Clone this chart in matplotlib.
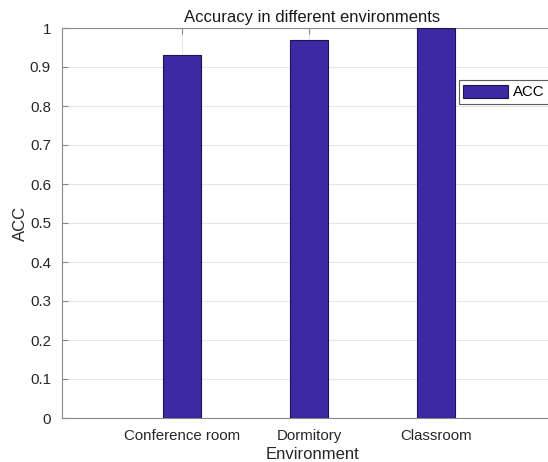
import matplotlib
matplotlib.use("Agg")
import matplotlib.pyplot as plt
import numpy as np

categories = ["Conference room", "Dormitory", "Classroom"]
acc = [0.93, 0.97, 1.0]
yticks = [0, 0.1, 0.2, 0.3, 0.4, 0.5, 0.6, 0.7, 0.8, 0.9, 1]
ytick_labels = ["0", "0.1", "0.2", "0.3", "0.4", "0.5", "0.6", "0.7", "0.8", "0.9", "1"]

plt.rcParams['font.family'] = ['Liberation Sans', 'DejaVu Sans']

W, H = 548, 462
fig = plt.figure(figsize=(W / 100, H / 100), dpi=100)
left, right, top, bottom = 62, 563, 28, 418
ax = fig.add_axes([left / W, 1 - bottom / H, (right - left) / W, (bottom - top) / H])

x = np.arange(1, len(categories) + 1)
bars = ax.bar(x, acc, width=0.3, color="#3d2aa3", edgecolor="#1c1450", linewidth=0.8,
              label="ACC", zorder=3)

ax.set_xlim(0.055, 4.0)
ax.set_ylim(0, 1)
ax.set_xticks(x)
ax.set_xticklabels(categories, fontsize=10.8, color="#262626")
ax.set_yticks(yticks)
ax.set_yticklabels(ytick_labels, fontsize=10.8, color="#262626")
ax.tick_params(direction="in", length=4, color="#888888", top=True, right=False, pad=8)
ax.grid(True, color="#e6e6e6", linewidth=0.8, zorder=0)
ax.set_axisbelow(True)
for s in ["left", "bottom", "top"]:
    ax.spines[s].set_color("#888888")
    ax.spines[s].set_linewidth(0.8)
ax.spines["right"].set_visible(False)

ax.set_title("Accuracy in different environments", fontsize=12, color="#1a1a1a", pad=4)
ax.set_xlabel("Environment", fontsize=12, color="#262626", labelpad=3)
ax.set_ylabel("ACC", fontsize=12, color="#262626", labelpad=1)

leg = ax.legend(loc="upper left", bbox_to_anchor=((459 - left) / (right - left), 1 - (80 - top) / (bottom - top)),
                fontsize=10.8, frameon=True, fancybox=False, handlelength=3.0, handleheight=1.0,
                handletextpad=0.3, borderpad=0.3, borderaxespad=0)
leg.get_frame().set_edgecolor("#333333")
leg.get_frame().set_linewidth(0.8)

fig.savefig("out.png", dpi=100)
